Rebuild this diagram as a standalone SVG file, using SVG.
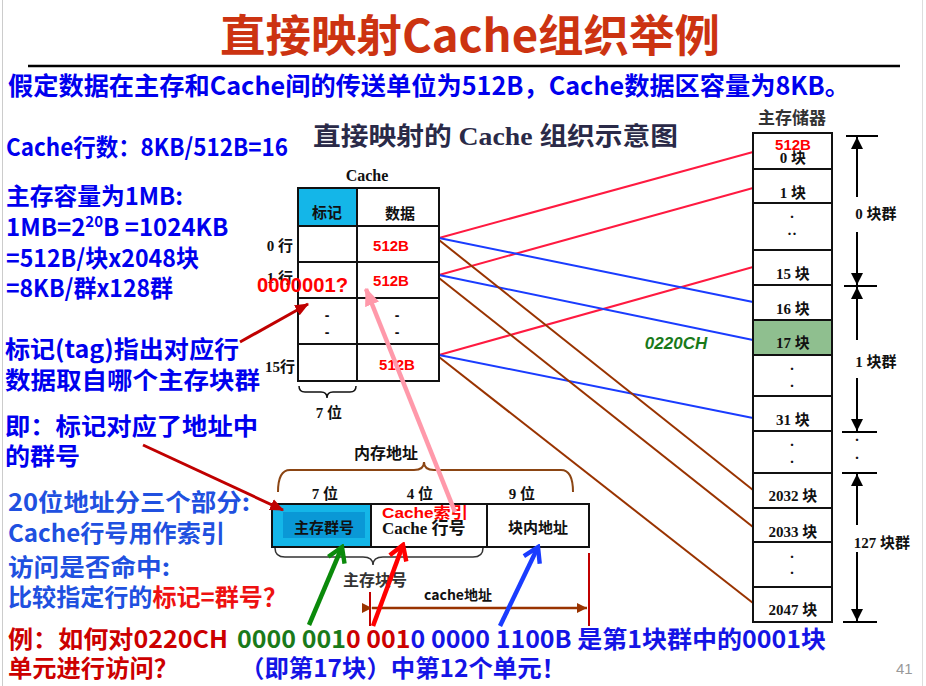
<svg xmlns="http://www.w3.org/2000/svg" width="926" height="686" viewBox="0 0 926 686">
<defs>
<style>
.sb{font-family:"Noto Sans CJK SC","Liberation Sans",sans-serif;font-weight:bold}
.sf{font-family:"Liberation Serif","Noto Sans CJK SC",serif;font-weight:bold}
.ar{font-family:"Liberation Sans","Noto Sans CJK SC",sans-serif;font-weight:bold}
.b1{fill:#0000EE}
.b2{fill:#2050E0}
.r1{fill:#CC0000}
.cell{fill:#fff;stroke:#111;stroke-width:2}
.mem{fill:#fff;stroke:#111;stroke-width:2}
.lr{stroke:#FF1A40;stroke-width:2;fill:none}
.lb{stroke:#1A3CFF;stroke-width:2;fill:none}
.ln{stroke:#993300;stroke-width:2;fill:none}
.blk{stroke:#000;stroke-width:2;fill:none}
.mt{font-size:15px;fill:#111;text-anchor:middle}
</style>
<marker id="ahDR" viewBox="0 0 12 10" refX="11" refY="5" markerWidth="14" markerHeight="12" orient="auto" markerUnits="userSpaceOnUse"><path d="M0,0 L12,5 L0,10 Z" fill="#C00000"/></marker>
<marker id="ahPK" viewBox="0 0 12 10" refX="11" refY="5" markerWidth="18" markerHeight="16" orient="auto" markerUnits="userSpaceOnUse"><path d="M0,0 L12,5 L0,10 Z" fill="#FF99AA"/></marker>
<marker id="ahK" viewBox="0 0 10 10" refX="10" refY="5" markerWidth="12" markerHeight="12" orient="auto" markerUnits="userSpaceOnUse"><path d="M0,0 L10,5 L0,10 Z" fill="#000"/></marker>
<marker id="ahBR" viewBox="0 0 10 10" refX="10" refY="5" markerWidth="10" markerHeight="10" orient="auto" markerUnits="userSpaceOnUse"><path d="M0,0 L10,5 L0,10 Z" fill="#993300"/></marker>
<marker id="vG" viewBox="0 0 20 20" refX="17" refY="10" markerWidth="22" markerHeight="22" orient="auto" markerUnits="userSpaceOnUse"><path d="M4,2 L17,10 L4,18" fill="none" stroke="#0B8A0B" stroke-width="4"/></marker>
<marker id="vR" viewBox="0 0 20 20" refX="17" refY="10" markerWidth="22" markerHeight="22" orient="auto" markerUnits="userSpaceOnUse"><path d="M4,2 L17,10 L4,18" fill="none" stroke="#FF0000" stroke-width="4"/></marker>
<marker id="vB" viewBox="0 0 20 20" refX="17" refY="10" markerWidth="22" markerHeight="22" orient="auto" markerUnits="userSpaceOnUse"><path d="M4,2 L17,10 L4,18" fill="none" stroke="#1A3CFF" stroke-width="4"/></marker>
</defs>

<rect width="926" height="686" fill="#fff"/>
<line x1="2.5" y1="0" x2="2.5" y2="686" stroke="#ccc" stroke-width="1"/>
<line x1="922.5" y1="0" x2="922.5" y2="686" stroke="#ddd" stroke-width="1"/>

<!-- title -->
<g id="title">
<text x="220" y="52" class="sb" font-size="44" fill="#CC3311" textLength="500" lengthAdjust="spacingAndGlyphs">直接映射Cache组织举例</text>
<line x1="28" y1="66" x2="900" y2="66" stroke="#000" stroke-width="2.5"/>
<text x="8" y="95" class="sb b1" font-size="25" textLength="842" lengthAdjust="spacingAndGlyphs">假定数据在主存和Cache间的传送单位为512B，Cache数据区容量为8KB。</text>
</g>

<!-- left notes -->
<g id="notes" class="sb" font-size="24">
<text x="6" y="156" class="b1" textLength="282" lengthAdjust="spacingAndGlyphs">Cache行数：8KB/512B=16</text>
<text x="6" y="205" class="b1" textLength="177" lengthAdjust="spacingAndGlyphs">主存容量为1MB:</text>
<text x="6" y="236" class="b1">1MB=2<tspan font-size="15" dy="-9">20</tspan><tspan dy="9">B =1024KB</tspan></text>
<text x="6" y="267" class="b1" textLength="193" lengthAdjust="spacingAndGlyphs">=512B/块x2048块</text>
<text x="6" y="297" class="b1" textLength="167" lengthAdjust="spacingAndGlyphs">=8KB/群x128群</text>
<text x="5" y="358" class="b1" textLength="234" lengthAdjust="spacingAndGlyphs">标记(tag)指出对应行</text>
<text x="5" y="389" class="b1" textLength="255" lengthAdjust="spacingAndGlyphs">数据取自哪个主存块群</text>
<text x="5" y="435" class="b1" textLength="253" lengthAdjust="spacingAndGlyphs">即：标记对应了地址中</text>
<text x="5" y="465" class="b1" textLength="75" lengthAdjust="spacingAndGlyphs">的群号</text>
<text x="8" y="511" class="b2" textLength="242" lengthAdjust="spacingAndGlyphs">20位地址分三个部分:</text>
<text x="8" y="542" class="b2" textLength="217" lengthAdjust="spacingAndGlyphs">Cache行号用作索引</text>
<text x="8" y="576" class="b2" textLength="162" lengthAdjust="spacingAndGlyphs">访问是否命中:</text>
<text x="8" y="606" textLength="279" lengthAdjust="spacingAndGlyphs"><tspan class="b2">比较指定行的</tspan><tspan fill="#EE1111">标记=群号？</tspan></text>
<text x="8" y="648" class="r1" textLength="220" lengthAdjust="spacingAndGlyphs">例：如何对0220CH</text>
<text x="8" y="677" class="r1" textLength="170" lengthAdjust="spacingAndGlyphs">单元进行访问？</text>
<text x="237" y="648" textLength="589" lengthAdjust="spacingAndGlyphs"><tspan fill="#1A7A1A">0000 001</tspan><tspan fill="#CC0000">0 001</tspan><tspan fill="#1414E6">0 0000 1100B 是第1块群中的0001块</tspan></text>
<text x="240" y="677" fill="#1414E6" textLength="326" lengthAdjust="spacingAndGlyphs">（即第17块）中第12个单元！</text>
</g>
<text x="896" y="674" font-family="Liberation Sans,sans-serif" font-size="15" fill="#999">41</text>

<!-- diagram heading -->
<text x="313" y="145" class="sf" font-size="25" fill="#2A2A48" textLength="365" lengthAdjust="spacingAndGlyphs">直接映射的 Cache 组织示意图</text>

<!-- connectors (under the boxes) -->
<g id="connectors">
<line class="lr" x1="439" y1="238" x2="753" y2="152"/>
<line class="lr" x1="439" y1="275" x2="753" y2="188"/>
<line class="lr" x1="439" y1="355" x2="753" y2="267"/>
<line class="lb" x1="439" y1="238" x2="753" y2="302"/>
<line class="lb" x1="439" y1="275" x2="753" y2="340"/>
<line class="lb" x1="439" y1="355" x2="753" y2="418"/>
<line class="ln" x1="439" y1="240" x2="753" y2="490"/>
<line class="ln" x1="439" y1="278" x2="753" y2="527"/>
<line class="ln" x1="439" y1="357" x2="753" y2="603"/>
</g>

<!-- cache table -->
<g id="cache">
<text x="367" y="181" class="sf" font-size="16" text-anchor="middle" fill="#111">Cache</text>
<rect x="298" y="188" width="59" height="38" fill="#14B6E8" stroke="#111" stroke-width="2"/>
<rect x="357" y="188" width="82" height="38" class="cell"/>
<rect x="298" y="226" width="59" height="36" class="cell"/>
<rect x="357" y="226" width="82" height="36" class="cell"/>
<rect x="298" y="262" width="59" height="36" class="cell"/>
<rect x="357" y="262" width="82" height="36" class="cell"/>
<rect x="298" y="298" width="59" height="46" class="cell"/>
<rect x="357" y="298" width="82" height="46" class="cell"/>
<rect x="298" y="344" width="59" height="37" class="cell"/>
<rect x="357" y="344" width="82" height="37" class="cell"/>
<text x="327" y="218" class="sf mt" font-size="16">标记</text>
<text x="400" y="219" class="sf mt" font-size="16">数据</text>
<text x="293" y="251" class="sf" font-size="15" text-anchor="end" fill="#111">0 行</text>
<text x="293" y="283" class="sf" font-size="15" text-anchor="end" fill="#111">1 行</text>
<text x="295" y="372" class="sf" font-size="15" text-anchor="end" fill="#111">15行</text>
<text x="391" y="251" class="ar" font-size="15" text-anchor="middle" fill="#FF0000">512B</text>
<text x="391" y="286" class="ar" font-size="15" text-anchor="middle" fill="#FF0000">512B</text>
<text x="397" y="370" class="ar" font-size="15" text-anchor="middle" fill="#FF0000">512B</text>
<text x="327" y="320" class="ar" font-size="14" text-anchor="middle" fill="#111">-</text>
<text x="327" y="337" class="ar" font-size="14" text-anchor="middle" fill="#111">-</text>
<text x="397" y="320" class="ar" font-size="14" text-anchor="middle" fill="#111">-</text>
<text x="397" y="337" class="ar" font-size="14" text-anchor="middle" fill="#111">-</text>
<text x="257" y="292" class="ar" font-size="20" fill="#FF0000" textLength="91" lengthAdjust="spacingAndGlyphs">0000001?</text>
<path d="M299,386 Q299,392 305,392 L321,392 Q327,392 327,398 Q327,392 333,392 L350,392 Q356,392 356,386" fill="none" stroke="#111" stroke-width="1.5"/>
<text x="329" y="418" class="sf mt" font-size="16">7 位</text>
</g>

<!-- main memory -->
<g id="memory">
<text x="792" y="124" class="sf" font-size="17" text-anchor="middle" fill="#333">主存储器</text>
<rect x="753" y="133" width="79" height="36" class="mem"/>
<rect x="753" y="169" width="79" height="34" class="mem"/>
<rect x="753" y="203" width="79" height="47" class="mem"/>
<rect x="753" y="250" width="79" height="35" class="mem"/>
<rect x="753" y="285" width="79" height="35" class="mem"/>
<rect x="753" y="320" width="79" height="35" fill="#8FBF8F" stroke="#111" stroke-width="2"/>
<rect x="753" y="355" width="79" height="41" class="mem"/>
<rect x="753" y="396" width="79" height="35" class="mem"/>
<rect x="753" y="431" width="79" height="42" class="mem"/>
<rect x="753" y="473" width="79" height="35" class="mem"/>
<rect x="753" y="508" width="79" height="34" class="mem"/>
<rect x="753" y="542" width="79" height="45" class="mem"/>
<rect x="753" y="587" width="79" height="35" class="mem"/>
<text x="793" y="150" class="ar" font-size="15" text-anchor="middle" fill="#FF0000">512B</text>
<text x="793" y="163" class="sf mt">0 块</text>
<text x="793" y="198" class="sf mt">1 块</text>
<text x="792" y="222" class="sf mt">·</text>
<text x="792" y="239" class="sf mt">··</text>
<text x="793" y="279" class="sf mt">15 块</text>
<text x="793" y="314" class="sf mt">16 块</text>
<text x="793" y="348" class="sf mt" fill="#1A4A1A">17 块</text>
<text x="792" y="374" class="sf mt">·</text>
<text x="792" y="391" class="sf mt">·</text>
<text x="793" y="425" class="sf mt">31 块</text>
<text x="792" y="450" class="sf mt">·</text>
<text x="792" y="467" class="sf mt">·</text>
<text x="793" y="501" class="sf mt">2032 块</text>
<text x="793" y="537" class="sf mt">2033 块</text>
<text x="792" y="562" class="sf mt">·</text>
<text x="792" y="578" class="sf mt">·</text>
<text x="793" y="615" class="sf mt">2047 块</text>
<line x1="846" y1="136" x2="878" y2="136" class="blk"/>
<line x1="857" y1="197" x2="857" y2="137" class="blk" marker-end="url(#ahK)"/>
<text x="876" y="219" class="sf mt">0 块群</text>
<line x1="857" y1="232" x2="857" y2="285" class="blk" marker-end="url(#ahK)"/>
<line x1="844" y1="286" x2="877" y2="286" class="blk"/>
<line x1="857" y1="340" x2="857" y2="287" class="blk" marker-end="url(#ahK)"/>
<text x="876" y="367" class="sf mt">1 块群</text>
<line x1="857" y1="378" x2="857" y2="431" class="blk" marker-end="url(#ahK)"/>
<line x1="842" y1="432" x2="877" y2="432" class="blk"/>
<text x="857" y="445" class="sf mt">·</text>
<text x="857" y="463" class="sf mt">·</text>
<line x1="842" y1="473" x2="877" y2="473" class="blk"/>
<line x1="857" y1="525" x2="857" y2="474" class="blk" marker-end="url(#ahK)"/>
<text x="882" y="548" class="sf mt">127 块群</text>
<line x1="857" y1="552" x2="857" y2="621" class="blk" marker-end="url(#ahK)"/>
<line x1="843" y1="622" x2="877" y2="622" class="blk"/>
<text x="676" y="349" font-family="Liberation Sans,sans-serif" font-weight="bold" font-style="italic" font-size="17" fill="#1A7A1A" text-anchor="middle">0220CH</text>
</g>

<!-- address -->
<g id="address">
<text x="386" y="459" class="sb" font-size="16" text-anchor="middle" fill="#111">内存地址</text>
<path d="M278,492 Q278,470 290,470 L414,470 Q424,470 424,462 Q424,470 434,470 L561,470 Q573,470 573,492" fill="none" stroke="#8B4513" stroke-width="2"/>
<text x="325" y="499" class="sf mt" font-size="16">7 位</text>
<text x="420" y="499" class="sf mt" font-size="16">4 位</text>
<text x="522" y="499" class="sf mt" font-size="16">9 位</text>
<rect x="272" y="504" width="99" height="43" fill="#14B6E8" stroke="#111" stroke-width="2"/>
<rect x="283" y="512" width="82" height="26" fill="#0A98D6"/>
<rect x="371" y="504" width="116" height="43" class="cell"/>
<rect x="487" y="504" width="102" height="43" class="cell"/>
<text x="324" y="533" class="sf mt" font-size="17">主存群号</text>
<text x="382" y="534" class="sf" font-size="17" fill="#111">Cache  行号</text>
<text x="538" y="533" class="sf mt" font-size="17">块内地址</text>
<text x="382" y="518" class="ar" font-size="15" fill="#FF0000" textLength="86" lengthAdjust="spacingAndGlyphs">Cache索引</text>
<path d="M275,548 Q275,557 285,557 L363,557 Q373,557 373,565 Q373,557 383,557 L473,557 Q483,557 483,548" fill="none" stroke="#333" stroke-width="1.5"/>
<text x="375" y="586" class="sb" font-size="16" text-anchor="middle" fill="#333">主存块号</text>
<text x="458" y="600" class="sb" font-size="14" text-anchor="middle" fill="#111">cache地址</text>
<line x1="370" y1="592" x2="370" y2="626" stroke="#C00000" stroke-width="2"/>
<line x1="589" y1="553" x2="589" y2="626" stroke="#C00000" stroke-width="2"/>
<line x1="372" y1="608" x2="587" y2="608" stroke="#993300" stroke-width="2.5" marker-end="url(#ahBR)" marker-start="url(#ahBR)"/>
</g>

<!-- pointer arrows (on top) -->
<g id="pointers">
<line x1="240" y1="342" x2="308" y2="304" stroke="#C00000" stroke-width="3" marker-end="url(#ahDR)"/>
<line x1="143" y1="445" x2="283" y2="510" stroke="#C00000" stroke-width="3" marker-end="url(#ahDR)"/>
<line x1="455" y1="512" x2="366" y2="289" stroke="#FF99AA" stroke-width="4.5" marker-end="url(#ahPK)"/>
<line x1="309" y1="625" x2="342" y2="547" stroke="#0B8A0B" stroke-width="4.5" marker-end="url(#vG)"/>
<line x1="373" y1="626" x2="403" y2="545" stroke="#FF0000" stroke-width="4.5" marker-end="url(#vR)"/>
<line x1="500" y1="626" x2="538" y2="547" stroke="#1A3CFF" stroke-width="4.5" marker-end="url(#vB)"/>
</g>
</svg>
